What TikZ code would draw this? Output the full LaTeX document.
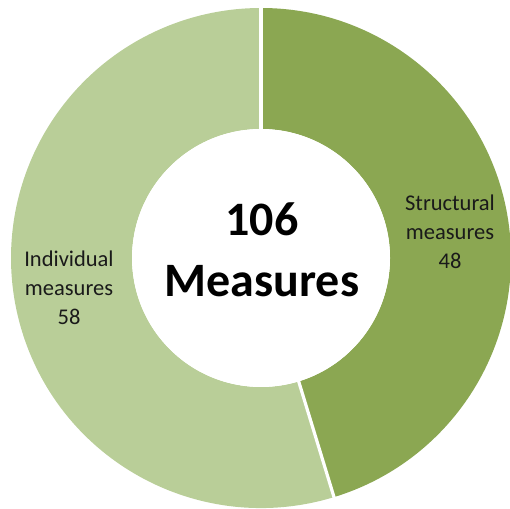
\documentclass[tikz,border=0pt]{standalone}
\usepackage{fontspec}
\setmainfont{Carlito}
\definecolor{lightg}{HTML}{B9CE98}
\definecolor{darkg}{HTML}{8BA752}
\definecolor{txt}{HTML}{1A1A1A}
\begin{document}
\begin{tikzpicture}[x=1pt,y=1pt,
  seglabel/.style={align=center,font=\fontsize{22.5}{29}\selectfont,text=txt,inner sep=0pt},
  sep/.style={draw=white,line width=3.2pt}]
\useasboundingbox (0,0) rectangle (510,508);
\coordinate (c) at (261,250);
% structural segment (48 of 106)
\fill[darkg] ([shift={(90:250)}]c) arc[start angle=90,end angle=-73.02,radius=250]
  -- ([shift={(-73.02:129)}]c) arc[start angle=-73.02,end angle=90,radius=129] -- cycle;
% individual segment (58 of 106)
\fill[lightg] ([shift={(-73.02:250)}]c) arc[start angle=-73.02,end angle=-270,radius=250]
  -- ([shift={(90:129)}]c) arc[start angle=90,end angle=286.98,radius=129] -- cycle;
% separators
\coordinate (s1a) at ([shift={(90:126)}]c);
\coordinate (s1b) at ([shift={(90:254)}]c);
\coordinate (s2a) at ([shift={(-73.02:126)}]c);
\coordinate (s2b) at ([shift={(-73.02:254)}]c);
\draw[sep] (s1a) -- (s1b);
\draw[sep] (s2a) -- (s2b);
\node[circle,fill=white,minimum size=258pt,inner sep=0pt] (hole) at (c) {};
\node[align=center,font=\bfseries\fontsize{48}{61}\selectfont,text=black,inner sep=0pt] (total) at (262,258) {106\\Measures};
\node[seglabel] (struct) at (450,276) {Structural\\measures\\48};
\node[seglabel] (indiv) at (69,220) {Individual\\measures\\58};
\end{tikzpicture}
\end{document}
